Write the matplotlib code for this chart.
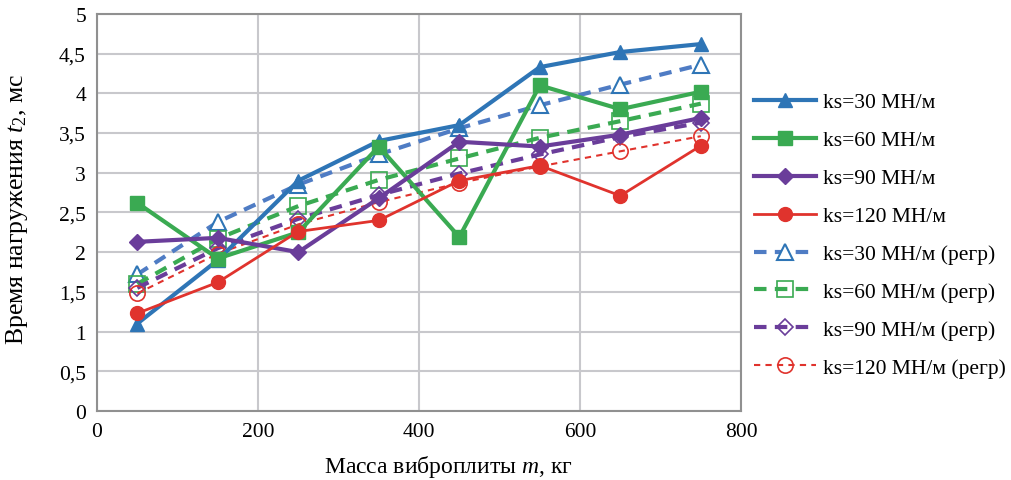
import numpy as np
import matplotlib.pyplot as plt
from matplotlib.ticker import FuncFormatter

plt.rcParams['font.family'] = ['Liberation Serif', 'DejaVu Serif']
plt.rcParams['mathtext.fontset'] = 'custom'
plt.rcParams['mathtext.rm'] = 'Liberation Serif'
plt.rcParams['mathtext.it'] = 'Liberation Serif:italic'

mass = [50, 150, 250, 350, 450, 550, 650, 750]

ks30 = [1.10, 1.90, 2.90, 3.40, 3.60, 4.33, 4.52, 4.62]
ks60 = [2.62, 1.92, 2.25, 3.33, 2.19, 4.10, 3.80, 4.02]
ks90 = [2.13, 2.18, 2.00, 2.68, 3.39, 3.33, 3.48, 3.69]
ks120 = [1.23, 1.62, 2.26, 2.40, 2.90, 3.09, 2.71, 3.34]

ks30_reg = [1.72, 2.38, 2.85, 3.23, 3.56, 3.85, 4.11, 4.36]
ks60_reg = [1.60, 2.17, 2.58, 2.91, 3.18, 3.44, 3.65, 3.87]
ks90_reg = [1.55, 2.05, 2.42, 2.72, 2.99, 3.23, 3.45, 3.63]
ks120_reg = [1.48, 1.98, 2.35, 2.63, 2.87, 3.08, 3.27, 3.46]

labels = ["ks=30 МН/м", "ks=60 МН/м", "ks=90 МН/м", "ks=120 МН/м",
          "ks=30 МН/м (регр)", "ks=60 МН/м (регр)", "ks=90 МН/м (регр)", "ks=120 МН/м (регр)"]

blue = "#2E75B6"
green = "#3AAA52"
purple = "#6A3D9A"
red = "#E0332D"
blue_reg = "#4F7CC4"

fig = plt.figure(figsize=(10.11, 4.81), dpi=100)
ax = fig.add_axes([0.096, 0.1435, 0.637, 0.8255])

ax.plot(mass, ks30, color=blue, lw=3, marker="^", ms=10, label=labels[0], zorder=5)
ax.plot(mass, ks60, color=green, lw=3, marker="s", ms=10, label=labels[1], zorder=5)
ax.plot(mass, ks90, color=purple, lw=3, marker="D", ms=8, label=labels[2], zorder=5)
ax.plot(mass, ks120, color=red, lw=2, marker="o", ms=10, label=labels[3], zorder=5)

ax.plot(mass, ks30_reg, color=blue_reg, lw=3, ls=(0, (3, 2)), marker="^", ms=11,
        mfc="white", mec=blue, mew=1.5, label=labels[4], zorder=4)
ax.plot(mass, ks60_reg, color=green, lw=3, ls=(0, (3, 2)), marker="s", ms=11,
        mfc="none", mec=green, mew=1.2, label=labels[5], zorder=4)
ax.plot(mass, ks90_reg, color=purple, lw=3, ls=(0, (3, 2)), marker="D", ms=8,
        mfc="none", mec=purple, mew=1.2, label=labels[6], zorder=4)
ax.plot(mass, ks120_reg, color=red, lw=1.5, ls=(0, (3, 2.5)), marker="o", ms=11,
        mfc="none", mec=red, mew=1.2, label=labels[7], zorder=4)

ax.set_xlim(0, 800)
ax.set_ylim(0, 5)
ax.set_xticks([0, 200, 400, 600, 800])
ax.set_yticks(np.arange(0, 5.01, 0.5))
ax.yaxis.set_major_formatter(FuncFormatter(lambda v, p: f"{v:g}".replace(".", ",")))
ax.grid(True, color="#C8C8CC", lw=1.5)
ax.set_axisbelow(True)
for s in ax.spines.values():
    s.set_color("#909090")
    s.set_linewidth(1.5)
ax.tick_params(length=0, labelsize=15.5, pad=8)

ax.set_xlabel("Масса виброплиты $m$, кг", fontsize=17)
ax.xaxis.set_label_coords(0.545, -0.105)
ax.set_ylabel("Время нагружения $t_2$, мс", fontsize=18.5)
ax.yaxis.set_label_coords(-0.104, 0.51)

ax.legend(loc="center left", bbox_to_anchor=(1.0, 0.443), frameon=False, fontsize=15.5,
          handlelength=2.9, labelspacing=0.83, handletextpad=0.3,
          borderaxespad=0.0, borderpad=0.6)

fig.savefig("out.png", dpi=100)
